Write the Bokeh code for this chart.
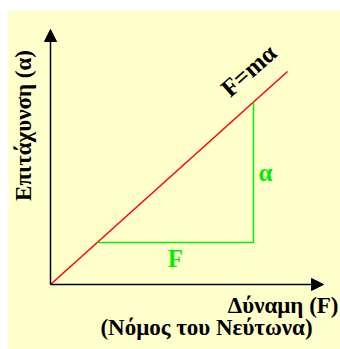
from bokeh.plotting import figure
from bokeh.models import Range1d, Arrow, NormalHead
from bokeh.core.properties import value
from bokeh.embed import file_html
from bokeh.resources import INLINE

# Newton's second law: straight line a ∝ F through the origin
force = [0, 237]
accel = [0, 213]

# slope triangle under the line (ΔF horizontally, Δα vertically)
tri_force = [47, 203, 203]
tri_accel = [42, 42, 182]

# axis extents
x_axis_end = 273
y_axis_end = 255

title_font = "Liberation Serif"

p = figure(width=340, height=349, output_backend="svg", toolbar_location=None,
           x_range=Range1d(-42, 290), y_range=Range1d(-65, 274),
           min_border_left=8, min_border_top=10, min_border_right=0, min_border_bottom=0)
p.axis.visible = False
p.grid.visible = False
p.outline_line_color = None
p.background_fill_color = "#FFFFCC"
p.border_fill_color = "white"

# axes with arrow heads
p.add_layout(Arrow(end=NormalHead(size=12, fill_color="black", line_color="black"),
                   x_start=0, y_start=0, x_end=x_axis_end, y_end=0,
                   line_color="black", line_width=1.5))
p.add_layout(Arrow(end=NormalHead(size=12, fill_color="black", line_color="black"),
                   x_start=0, y_start=0, x_end=0, y_end=y_axis_end,
                   line_color="black", line_width=1.5))

# F = mα line
p.line(force, accel, line_color="red", line_width=1.5)

# slope triangle
p.line(tri_force, tri_accel, line_color="#00EE00", line_width=1.5)

# labels
p.text(x=[198], y=[214], text=["F=mα"], angle=0.73,
       text_font=value(title_font), text_font_style="bold", text_font_size="25px",
       text_align="center", text_baseline="middle", text_color="black")
p.text(x=[(tri_force[1] + 12)], y=[(tri_accel[0] + tri_accel[2]) / 2],
       text=["α"], text_font=value(title_font), text_font_style="bold",
       text_font_size="25px", text_align="center", text_baseline="middle",
       text_color="#00EE00")
p.text(x=[(tri_force[0] + tri_force[1]) / 2], y=[tri_accel[0] - 16],
       text=["F"], text_font=value(title_font), text_font_style="bold",
       text_font_size="25px", text_align="center", text_baseline="middle",
       text_color="#00EE00")
p.text(x=[-27], y=[159], text=["Επιτάχυνση (α)"], angle=1.5708,
       text_font=value(title_font), text_font_style="bold", text_font_size="23px",
       text_align="center", text_baseline="middle", text_color="black")
p.text(x=[288], y=[-21], text=["Δύναμη (F)"],
       text_font=value(title_font), text_font_style="bold", text_font_size="23px",
       text_align="right", text_baseline="middle", text_color="black")
p.text(x=[156], y=[-43], text=["(Νόμος του Νεύτωνα)"],
       text_font=value(title_font), text_font_style="bold", text_font_size="23px",
       text_align="center", text_baseline="middle", text_color="black")

open("out.html", "w").write(file_html(p, INLINE))
